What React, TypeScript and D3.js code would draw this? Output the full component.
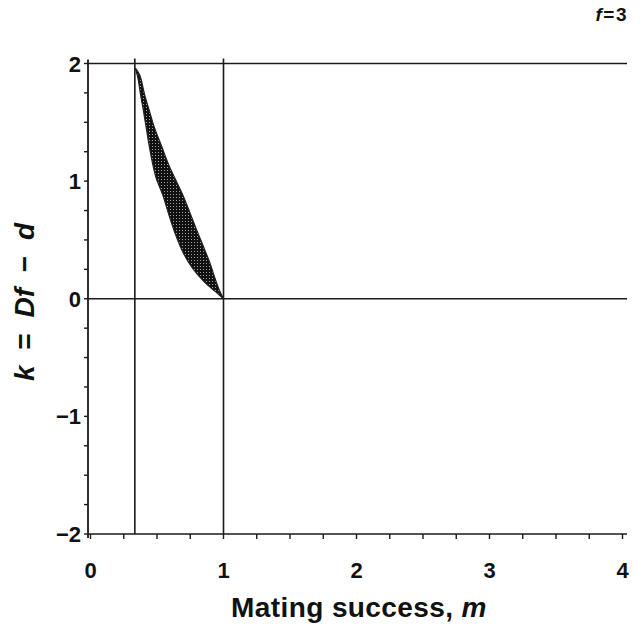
import React from "react";
import * as d3 from "d3";

// Data
const xTicks = [0, 1, 2, 3, 4];
const yTicks = [-2, -1, 0, 1, 2];
const minorStep = 0.25;
const verticalLines = [1 / 3, 1];
const horizontalLines = [2, 0, -2];
// Left (upper) boundary of the feasible region: [m, k]
const upperBoundary: [number, number][] = [
  [0.338, 1.96], [0.344, 1.93], [0.357, 1.874], [0.377, 1.731], [0.395, 1.618],
  [0.42, 1.447], [0.445, 1.277], [0.47, 1.134], [0.495, 1.021], [0.545, 0.878],
  [0.583, 0.736], [0.633, 0.565], [0.695, 0.395], [0.771, 0.253], [0.859, 0.139],
  [0.946, 0.054], [1.0, 0.0],
];
// Right (lower) boundary: [m, k]
const lowerBoundary: [number, number][] = [
  [0.338, 1.96], [0.37, 1.902], [0.408, 1.731], [0.445, 1.589], [0.483, 1.447],
  [0.532, 1.305], [0.59, 1.134], [0.645, 1.0], [0.695, 0.88], [0.746, 0.736],
  [0.795, 0.594], [0.846, 0.452], [0.896, 0.31], [0.938, 0.168], [0.971, 0.068],
  [1.0, 0.0],
];

export default function App() {
  const W = 644, H = 629;
  const x = d3.scaleLinear().domain([0, 4]).range([90.5, 622.5]);
  const y = d3.scaleLinear().domain([-2, 2]).range([534, 63.5]);
  const minorX = d3.range(0, 4 + 1e-9, minorStep);
  const minorY = d3.range(-2, 2 + 1e-9, minorStep);
  const lineGen = d3.line<[number, number]>().x(d => x(d[0])).y(d => y(d[1])).curve(d3.curveCatmullRom);
  const upperPath = lineGen(upperBoundary) || "";
  const lowerPath = lineGen(lowerBoundary.slice().reverse()) || "";
  const area = upperPath + "L" + lowerPath.slice(1) + "Z";
  const stroke = "#1a1a1a";
  const font = "'Liberation Sans', Arial, Helvetica, sans-serif";
  const xRight = 627;
  const spineX = 88;
  return (
    <svg width={W} height={H} style={{ position: "absolute", left: 0, top: 0, background: "#fff" }}>
      <defs>
        <pattern id="hatch" width={3} height={3} patternUnits="userSpaceOnUse">
          <rect width={3} height={3} fill="#111" />
          <rect x={2} y={2} width={1} height={1} fill="#fff" opacity={0.6} />
        </pattern>
      </defs>
      <path d={area} fill="url(#hatch)" stroke="#222" strokeWidth={1.2} />
      {horizontalLines.map(v => (
        <line key={"h" + v} x1={spineX} x2={xRight} y1={y(v)} y2={y(v)} stroke={stroke} strokeWidth={1.6} />
      ))}
      {verticalLines.map(v => (
        <line key={"v" + v} x1={x(v)} x2={x(v)} y1={y(-2)} y2={y(2) - 5} stroke={stroke} strokeWidth={1.6} />
      ))}
      <line x1={spineX} x2={spineX} y1={y(2) - 4} y2={y(-2) + 4} stroke={stroke} strokeWidth={1.8} />
      {minorX.map(v => (
        <line key={"mx" + v} x1={x(v)} x2={x(v)} y1={y(-2)} y2={y(-2) + 5} stroke={stroke} strokeWidth={1.4} />
      ))}
      {minorY.map(v => (
        <line key={"my" + v} x1={spineX} x2={spineX - 4} y1={y(v)} y2={y(v)} stroke={stroke} strokeWidth={1.4} />
      ))}
      {xTicks.map(v => (
        <text key={"xt" + v} x={x(v)} y={578} textAnchor="middle" fontFamily={font} fontWeight="bold" fontSize={22} fill="#111">
          {v}
        </text>
      ))}
      {yTicks.map(v => (
        <text key={"yt" + v} x={81} y={y(v) + 8} textAnchor="end" fontFamily={font} fontWeight="bold" fontSize={22} fill="#111">
          {v < 0 ? "\u2212" + Math.abs(v) : v}
        </text>
      ))}
      <text x={359} y={617} textAnchor="middle" fontFamily={font} fontWeight="bold" fontSize={28} letterSpacing={0.4} fill="#111">
        Mating success, <tspan fontStyle="italic">m</tspan>
      </text>
      <text transform="translate(34,302) rotate(-90)" textAnchor="middle" fontFamily={font} fontWeight="bold" fontSize={28} wordSpacing={8} fill="#111">
        <tspan fontStyle="italic">k</tspan> = <tspan fontStyle="italic">Df</tspan> − <tspan fontStyle="italic">d</tspan>
      </text>
      <text x={628} y={21} textAnchor="end" fontFamily={font} fontWeight="bold" fontSize={19} letterSpacing={1.5} fill="#111">
        <tspan fontStyle="italic">f</tspan>=3
      </text>
    </svg>
  );
}
